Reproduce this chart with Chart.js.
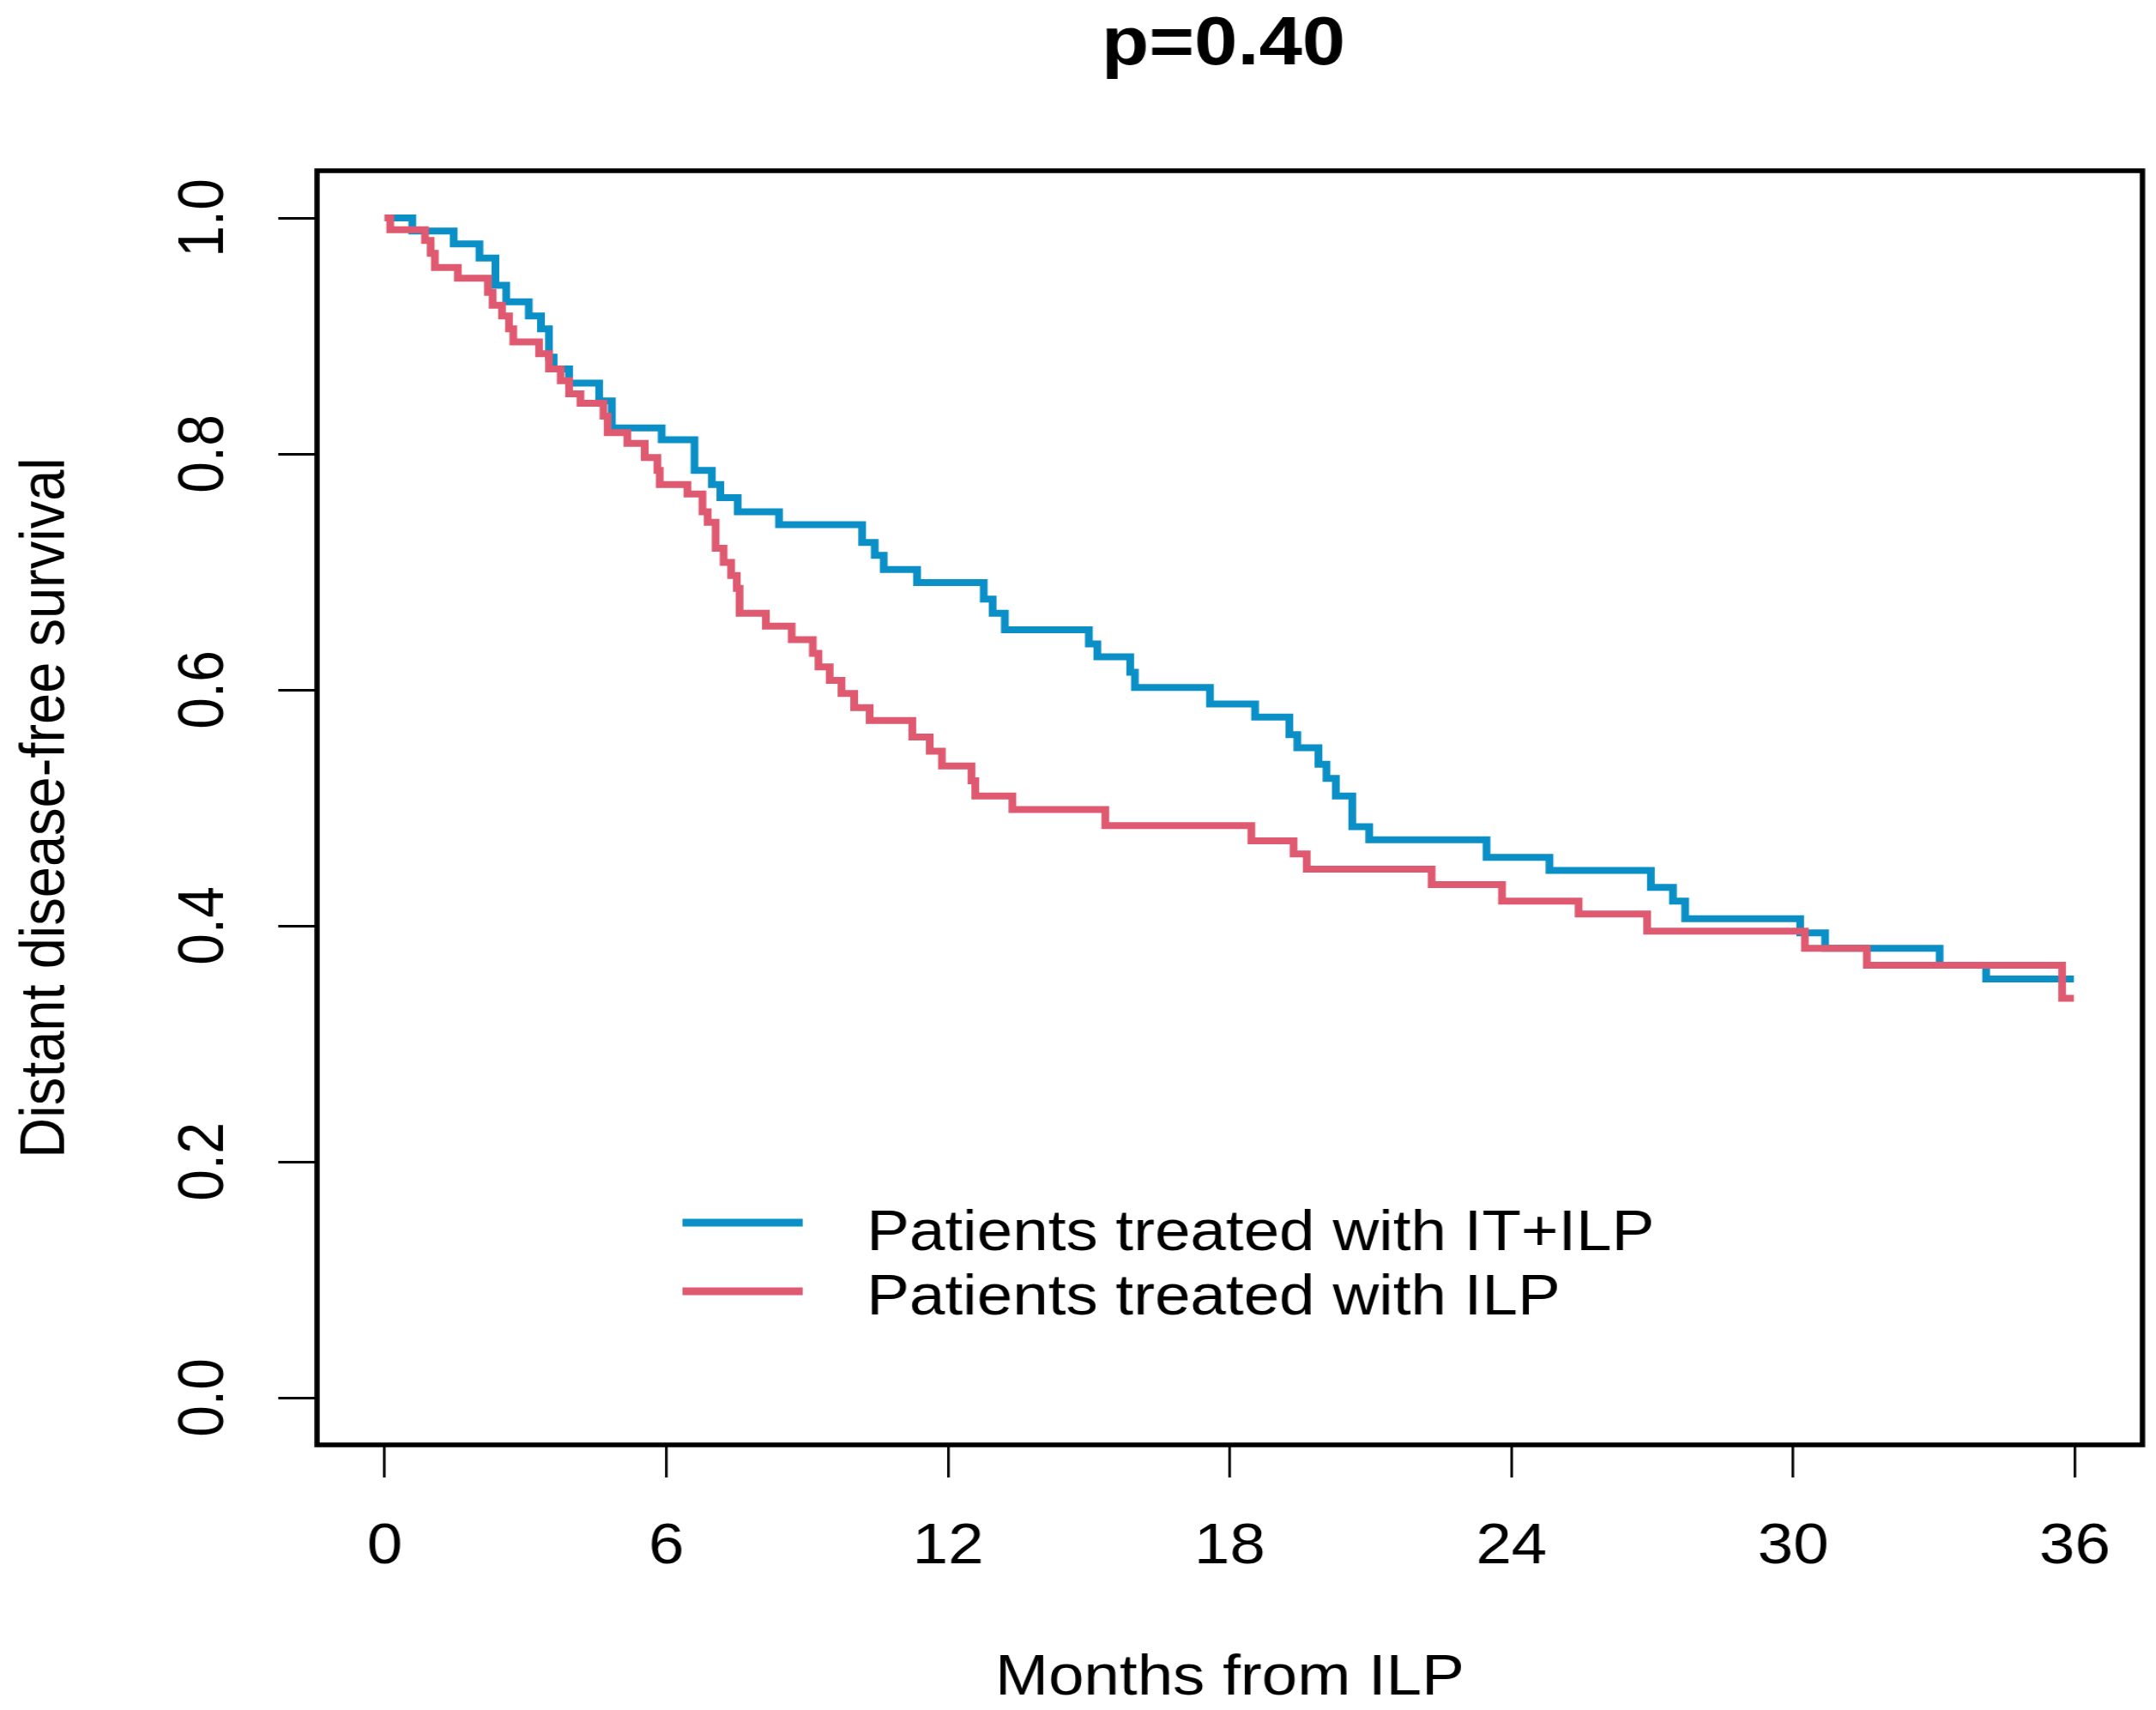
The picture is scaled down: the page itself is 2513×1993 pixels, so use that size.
<!DOCTYPE html>
<html>
<head>
<meta charset="utf-8">
<script src="https://cdn.jsdelivr.net/npm/chart.js@4.4.1/dist/chart.umd.min.js"></script>
<style>
  html, body { margin: 0; padding: 0; background: #fff; overflow: hidden; }
  #c { display: block; width: 2224px; height: 1993px; transform: scaleX(1.12995); transform-origin: 0 0; }
</style>
</head>
<body>
<canvas id="c" width="2224" height="1993"></canvas>
<script>
// Kaplan-Meier steps: time of each drop (months) and survival after it
const itIlpTimes = [0, 0.59, 1.47, 2.02, 2.36, 2.59, 3.07, 3.33, 3.50, 3.60, 3.93, 4.57, 4.84, 5.90,
  6.60, 6.97, 7.15, 7.52, 8.40, 10.17, 10.44, 10.63, 11.34, 12.76, 12.95, 13.21, 15.00, 15.18,
  15.88, 15.98, 17.58, 18.54, 19.27, 19.44, 19.89, 20.06, 20.26, 20.61, 20.97, 23.47, 24.81,
  26.97, 27.44, 27.70, 30.15, 30.68, 33.12, 34.11, 35.98]
const itIlpSurv = [1.000, 0.989, 0.978, 0.966, 0.943, 0.929, 0.917, 0.906, 0.882, 0.872, 0.860, 0.845, 0.822, 0.812,
  0.786, 0.774, 0.763, 0.751, 0.740, 0.725, 0.714, 0.702, 0.691, 0.677, 0.665, 0.651, 0.639, 0.628,
  0.615, 0.602, 0.588, 0.577, 0.562, 0.551, 0.537, 0.525, 0.510, 0.484, 0.473, 0.458, 0.447,
  0.4325, 0.421, 0.406, 0.394, 0.381, 0.3665, 0.355, 0.355]

const ilpTimes = [0, 0.12, 0.86, 0.98, 1.07, 1.56, 2.20, 2.30, 2.50, 2.65, 2.74, 3.29, 3.50, 3.75, 3.93,
  4.17, 4.66, 4.75, 5.17, 5.54, 5.81, 5.86, 6.45, 6.77, 6.88, 7.05, 7.22, 7.38, 7.50, 7.56, 8.12,
  8.67, 9.12, 9.24, 9.48, 9.73, 10.00, 10.33, 11.24, 11.61, 11.87, 12.50, 12.58, 13.37, 15.35,
  18.46, 19.36, 19.64, 22.30, 23.80, 25.43, 26.89, 30.25, 31.57, 35.73, 35.98]
const ilpSurv = [1.000, 0.990, 0.981, 0.970, 0.958, 0.949, 0.937, 0.926, 0.917, 0.906, 0.895, 0.885, 0.872, 0.862, 0.851,
  0.843, 0.832, 0.818, 0.809, 0.797, 0.786, 0.774, 0.766, 0.751, 0.742, 0.720, 0.708, 0.697, 0.686, 0.665, 0.654,
  0.6425, 0.631, 0.6195, 0.608, 0.597, 0.585, 0.574, 0.560, 0.548, 0.5355, 0.523, 0.510, 0.4985, 0.485,
  0.472, 0.461, 0.448, 0.435, 0.421, 0.410, 0.3955, 0.381, 0.3665, 0.3385, 0.3385]

const seriesNames = ['Patients treated with IT+ILP', 'Patients treated with ILP']
const xTickValues = [0, 6, 12, 18, 24, 30, 36]
const xTickLabels = ['0', '6', '12', '18', '24', '30', '36']
const yTickValues = [0, 0.2, 0.4, 0.6, 0.8, 1.0]
const yTickLabels = ['0.0', '0.2', '0.4', '0.6', '0.8', '1.0']
const titleText = 'p=0.40'
const xTitle = 'Months from ILP'
const yTitle = 'Distant disease-free survival'

const BLUE = '#0a8fc7'
const RED = '#df5a70'
const FONT = '"Liberation Sans", Arial, sans-serif'

const toPoints = (ts, ss) => ts.map((t, i) => ({ x: t, y: ss[i] }))

const rStyle = {
  id: 'rStyle',
  afterDraw(chart) {
    const { ctx, chartArea: a, scales } = chart
    ctx.save()
    // plot box
    ctx.strokeStyle = '#000'
    ctx.lineWidth = 5.5
    ctx.strokeRect(a.left, a.top, a.right - a.left, a.bottom - a.top)

    ctx.fillStyle = '#000'
    // x tick labels
    ctx.font = '66px ' + FONT
    ctx.textAlign = 'center'
    ctx.textBaseline = 'alphabetic'
    scales.x.ticks.forEach((t, i) => {
      ctx.fillText(xTickLabels[i], scales.x.getPixelForValue(t.value), 1822)
    })
    // y tick labels, rotated like R
    scales.y.ticks.forEach((t, i) => {
      ctx.save()
      ctx.translate(230, scales.y.getPixelForValue(t.value))
      ctx.rotate(-Math.PI / 2)
      ctx.fillText(yTickLabels[i], 0, 0)
      ctx.restore()
    })
    // title
    ctx.font = 'bold 80px ' + FONT
    ctx.fillText(titleText, 1262, 75)
    // axis titles
    ctx.font = '66px ' + FONT
    ctx.fillText(xTitle, (a.left + a.right) / 2, 1975)
    ctx.save()
    ctx.translate(66, (a.top + a.bottom) / 2)
    ctx.rotate(-Math.PI / 2)
    ctx.font = '65px ' + FONT
    ctx.fillText(yTitle, 0, 0)
    ctx.restore()

    // legend
    const rows = [[BLUE, 1425, 1457], [RED, 1505, 1532]]
    ctx.textAlign = 'left'
    ctx.font = '66px ' + FONT
    rows.forEach(([col, ly, by], i) => {
      ctx.strokeStyle = col
      ctx.lineWidth = 9
      ctx.beginPath()
      ctx.moveTo(704, ly)
      ctx.lineTo(828, ly)
      ctx.stroke()
      ctx.fillText(seriesNames[i], 894, by)
    })
    ctx.restore()
  }
}

new Chart(document.getElementById('c'), {
  type: 'line',
  data: {
    datasets: [
      {
        label: seriesNames[1],
        data: toPoints(ilpTimes, ilpSurv),
        borderColor: RED,
        borderWidth: 8,
        pointRadius: 0,
        stepped: 'before',
        fill: false,
      },
      {
        label: seriesNames[0],
        data: toPoints(itIlpTimes, itIlpSurv),
        borderColor: BLUE,
        borderWidth: 8,
        pointRadius: 0,
        stepped: 'before',
        fill: false,
      },
    ],
  },
  options: {
    responsive: false,
    devicePixelRatio: 1,
    animation: false,
    layout: { padding: { left: 0, top: 199, right: 14, bottom: 0 } },
    plugins: {
      legend: { display: false },
      tooltip: { enabled: false },
    },
    scales: {
      x: {
        type: 'linear',
        min: -1.44,
        max: 37.44,
        afterBuildTicks: s => { s.ticks = xTickValues.map(v => ({ value: v })) },
        afterFit: s => { s.height = 309 },
        ticks: { display: false },
        grid: { drawOnChartArea: false, drawTicks: true, tickLength: 38, color: '#000', lineWidth: 2.7 },
        border: { display: false },
      },
      y: {
        type: 'linear',
        min: -0.04,
        max: 1.04,
        afterBuildTicks: s => { s.ticks = yTickValues.map(v => ({ value: v })) },
        afterFit: s => { s.width = 327 },
        ticks: { display: false },
        grid: { drawOnChartArea: false, drawTicks: true, tickLength: 40, color: '#000', lineWidth: 3 },
        border: { display: false },
      },
    },
  },
  plugins: [rStyle],
})
</script>
</body>
</html>
